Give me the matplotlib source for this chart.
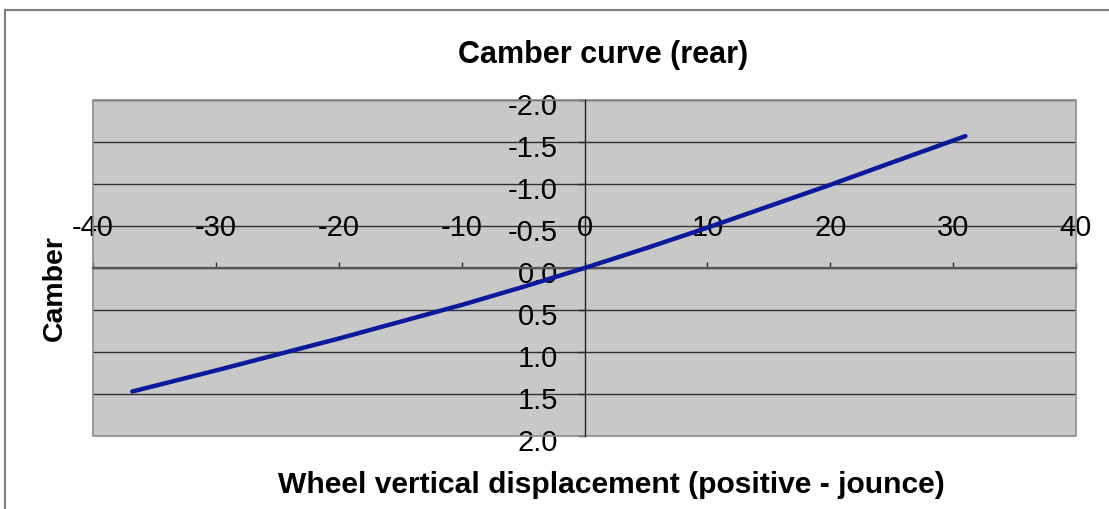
import matplotlib
matplotlib.use("Agg")
import matplotlib.pyplot as plt
from matplotlib.patches import Rectangle
from matplotlib.transforms import ScaledTranslation

# Data
displacement = [-36.8, -30, -25, -20, -15, -10, -5, 0, 5, 10, 15, 20, 25, 31]
camber = [1.47, 1.22, 1.03, 0.84, 0.64, 0.44, 0.225, 0.0, -0.235, -0.48, -0.735, -0.99, -1.255, -1.57]
x_ticks = [-40, -30, -20, -10, 0, 10, 20, 30, 40]
y_ticks = [-2.0, -1.5, -1.0, -0.5, 0.0, 0.5, 1.0, 1.5, 2.0]
title = "Camber curve (rear)"
x_title = "Wheel vertical displacement (positive - jounce)"
y_title = "Camber"

plt.rcParams['font.family'] = ['Liberation Sans', 'DejaVu Sans']

W, H = 1109, 510
fig = plt.figure(figsize=(W / 100, H / 100), dpi=100)
fig.patch.set_facecolor('white')

# outer chart frame
fig.patches.append(Rectangle((4.5 / W, -0.05), 1.2, 1.05 - 10.5 / H,
                             transform=fig.transFigure, fill=False,
                             edgecolor='#808080', linewidth=1.6, zorder=0))

left, right, top, bottom = 93, 1076, 101, 437
ax = fig.add_axes([left / W, 1 - bottom / H, (right - left) / W, (bottom - top) / H])
ax.set_facecolor('#c8c8c8')

ax.set_xlim(-40, 40)
ax.set_ylim(2.0, -2.0)

# horizontal gridlines
for yv in y_ticks:
    ax.axhline(yv, color='#303030', linewidth=1.0, zorder=1)

ax.plot(displacement, camber, color='#0a1a9a', linewidth=3.2,
        solid_capstyle='round', solid_joinstyle='round', zorder=3)

# spines: axes cross at origin
for s in ['bottom', 'right']:
    ax.spines[s].set_visible(False)
ax.spines['top'].set_position(('data', 0))
ax.spines['top'].set_color('#555555')
ax.spines['top'].set_linewidth(1.6)
ax.spines['left'].set_position(('data', 0))
ax.spines['left'].set_color('#202020')
ax.spines['left'].set_linewidth(1.0)
ax.spines['top'].set_zorder(2)
ax.spines['left'].set_zorder(2)

# plot area border
ax.add_patch(Rectangle((0, 0), 1, 1, transform=ax.transAxes, fill=False,
                       edgecolor='#8c8c8c', linewidth=1.2, zorder=2, clip_on=False))

ax.xaxis.set_ticks_position('top')
ax.set_xticks(x_ticks)
ax.set_xticklabels([f"{v:d}" for v in x_ticks])
ax.tick_params(axis='x', direction='out', length=4.5, width=1.0, color='#333333',
               pad=15, labelsize=21)

ax.yaxis.set_ticks_position('left')
ax.set_yticks(y_ticks)
ax.set_yticklabels([f"{v:.1f}" for v in y_ticks])
ax.tick_params(axis='y', direction='out', length=5, width=1.0, color='#202020',
               pad=14, labelsize=21)

shift = ScaledTranslation(0, -3 / 100, fig.dpi_scale_trans)
for lab in ax.get_yticklabels():
    lab.set_transform(lab.get_transform() + shift)
for lab in ax.get_xticklabels() + ax.get_yticklabels():
    lab.set_clip_on(False)

fig.text(603 / W, 1 - 55 / H, title, ha='center', va='center',
         fontsize=22, fontweight='bold')
fig.text(611 / W, 1 - 485 / H, x_title, ha='center', va='center',
         fontsize=21.6, fontweight='bold')
fig.text(55 / W, 1 - 288 / H, y_title, ha='center', va='center',
         fontsize=20.5, fontweight='bold', rotation=90)

fig.savefig('out.png', dpi=100, facecolor='white')
